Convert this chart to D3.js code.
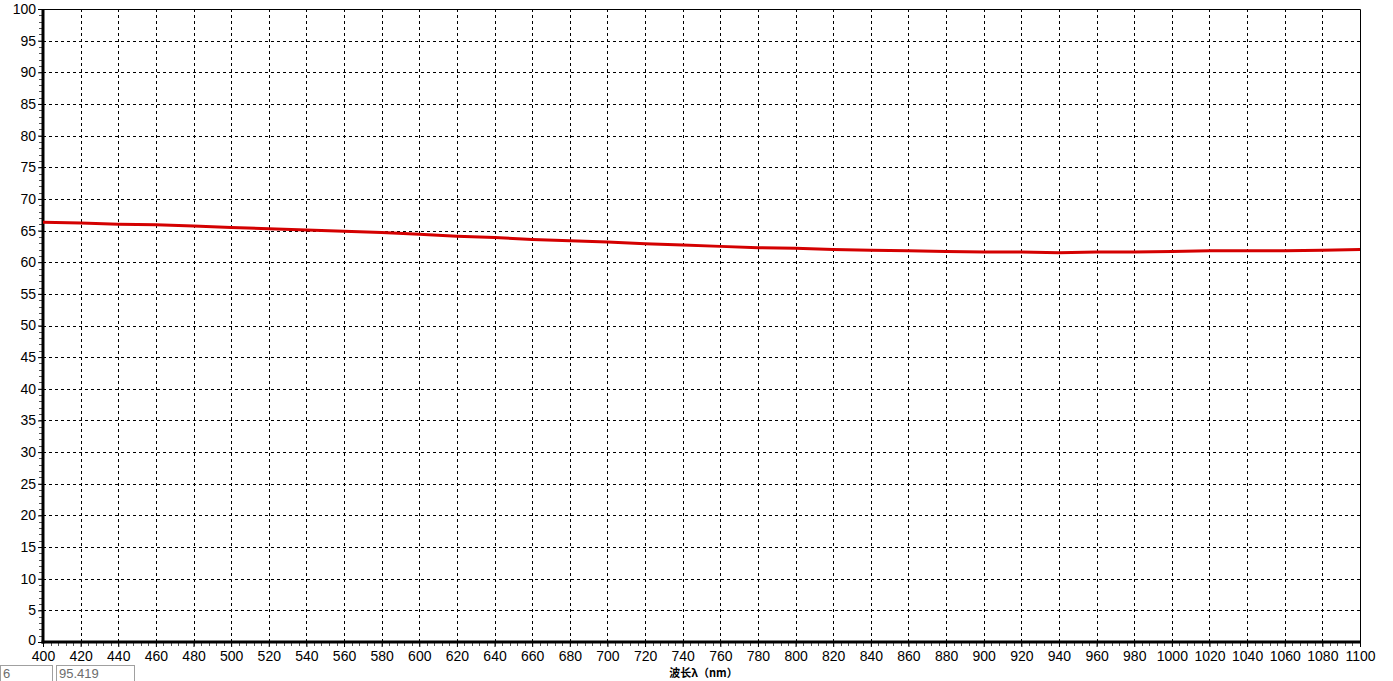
<!DOCTYPE html>
<html>
<head>
<meta charset="UTF-8">
<title>波长 spectrum</title>
<script src="https://d3js.org/d3.v7.min.js"></script>
<style>
  body { margin: 0; background: #fff; }
  svg { display: block; }
  .tick text { font-family: "Liberation Sans", Arial, sans-serif; font-size: 14px; fill: #000; }
</style>
</head>
<body>
<svg id="chart" width="1393" height="681"></svg>
<script>
const wavelengths = [400, 420, 440, 460, 480, 500, 520, 540, 560, 580, 600, 620, 640, 660, 680, 700,
    720, 740, 760, 780, 800, 820, 840, 860, 880, 900, 920, 940, 960, 980, 1000, 1020, 1040, 1060, 1080, 1100];
const values = [66.3, 66.2, 66.0, 65.9, 65.7, 65.5, 65.3, 65.1, 64.9, 64.7, 64.4, 64.1, 63.9, 63.6, 63.4, 63.2,
    62.9, 62.7, 62.5, 62.3, 62.2, 62.0, 61.9, 61.8, 61.7, 61.6, 61.6, 61.5, 61.6, 61.6, 61.7, 61.8, 61.8, 61.8, 61.9, 62.0];
const xTicks = d3.range(400, 1101, 20);
const yTicks = d3.range(0, 101, 5);
const statusBoxes = ["6", "95.419"];

const svg = d3.select('#chart');
const plotL = 43, plotR = 1360, plotT = 9, plotB = 642;

const x = d3.scaleLinear().domain([400, 1100]).range([plotL, plotR]);
const y = d3.scaleLinear().domain([0, 100]).range([plotB, plotT]);

// grid
const grid = svg.append('g');
grid.selectAll('.vg').data(xTicks.slice(1, -1)).join('line')
    .attr('x1', d => Math.round(x(d)) + 0.5).attr('x2', d => Math.round(x(d)) + 0.5)
    .attr('y1', plotT).attr('y2', plotB)
    .attr('stroke', '#000').attr('stroke-dasharray', '3,3');
grid.selectAll('.hg').data(yTicks.slice(1, -1)).join('line')
    .attr('y1', d => Math.round(y(d)) + 0.5).attr('y2', d => Math.round(y(d)) + 0.5)
    .attr('x1', plotL).attr('x2', plotR)
    .attr('stroke', '#000').attr('stroke-dasharray', '3,3');

// top and right frame
svg.append('path')
    .attr('d', `M${plotL},${plotT + 0.5}H${plotR + 0.5}V${plotB}`)
    .attr('fill', 'none').attr('stroke', '#000');

// minor ticks
svg.append('g').selectAll('line').data(d3.range(400, 1101, 4)).join('line')
    .attr('x1', d => Math.round(x(d)) + 0.5).attr('x2', d => Math.round(x(d)) + 0.5)
    .attr('y1', plotB).attr('y2', plotB + 4)
    .attr('stroke', '#555');
svg.append('g').selectAll('line').data(d3.range(0, 101, 1)).join('line')
    .attr('y1', d => Math.round(y(d)) + 0.5).attr('y2', d => Math.round(y(d)) + 0.5)
    .attr('x1', plotL - 4).attr('x2', plotL)
    .attr('stroke', '#555');

// axes
const xAxis = svg.append('g').attr('transform', `translate(0,${plotB})`)
    .call(d3.axisBottom(x).tickValues(xTicks).tickSize(5).tickPadding(4).tickFormat(d3.format('d')));
const yAxis = svg.append('g').attr('transform', `translate(${plotL},0)`)
    .call(d3.axisLeft(y).tickValues(yTicks).tickSize(5).tickPadding(2).tickFormat(d3.format('d')));
[xAxis, yAxis].forEach(a => {
    a.select('.domain').remove();
    a.selectAll('.tick line').attr('stroke', '#000');
});
// the "0" label sits a touch higher so it clears "400"
yAxis.selectAll('.tick text').filter(d => d === 0).attr('dy', '0.2em');

svg.append('line').attr('x1', plotL).attr('x2', plotL).attr('y1', plotT).attr('y2', plotB + 1.5)
    .attr('stroke', '#000').attr('stroke-width', 3);
svg.append('line').attr('x1', plotL - 1.5).attr('x2', plotR + 1).attr('y1', plotB).attr('y2', plotB)
    .attr('stroke', '#000').attr('stroke-width', 3);

// data line
svg.append('path')
    .datum(wavelengths.map((w, i) => [w, values[i]]))
    .attr('fill', 'none')
    .attr('stroke', '#d40000')
    .attr('stroke-width', 3)
    .attr('d', d3.line().x(d => x(d[0])).y(d => y(d[1])));

// axis title
svg.append('text')
    .attr('x', x(750) + 2).attr('y', 677)
    .attr('text-anchor', 'middle')
    .attr('font-family', '"Noto Sans CJK SC", sans-serif')
    .attr('font-weight', 'bold').attr('font-size', 11)
    .text('波长λ（nm）');

// status boxes at bottom-left
const boxX = [0, 56], boxW = [52, 78];
statusBoxes.forEach((t, i) => {
    svg.append('rect').attr('x', boxX[i] + 0.5).attr('y', 665.5).attr('width', boxW[i]).attr('height', 20)
        .attr('fill', '#fff').attr('stroke', '#a0a0a0');
    svg.append('text').attr('x', boxX[i] + 3).attr('y', 678)
        .attr('font-family', '"Liberation Sans", Arial, sans-serif').attr('font-size', 13)
        .attr('fill', '#6d6d6d').text(t);
});
</script>
</body>
</html>
